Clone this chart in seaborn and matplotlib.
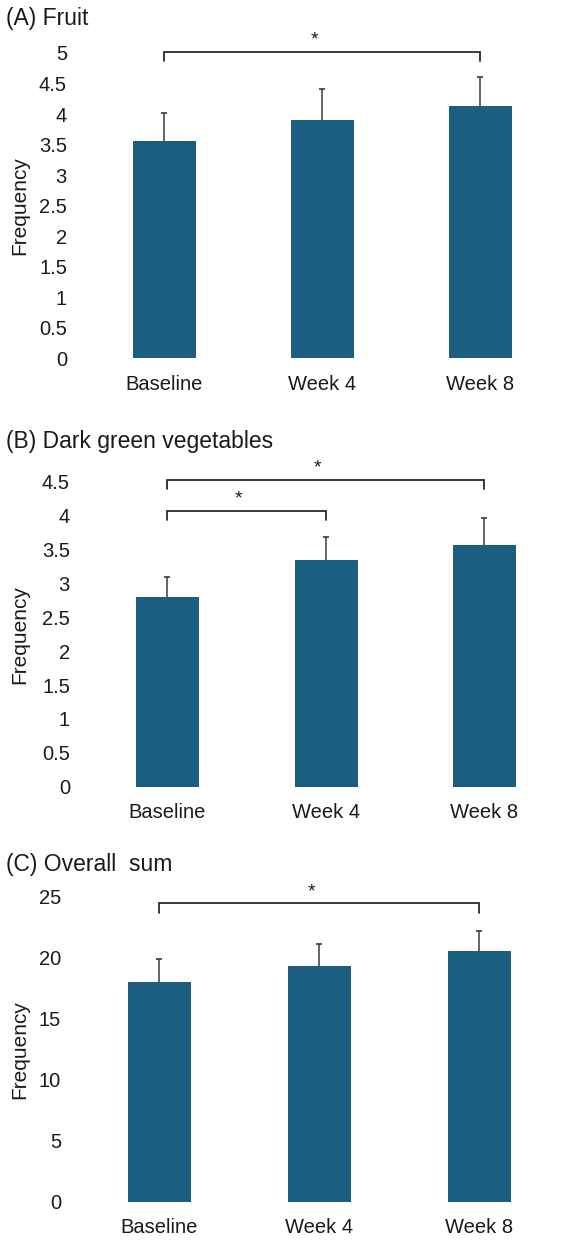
import matplotlib
matplotlib.use("Agg")
import matplotlib.pyplot as plt
import seaborn as sns
import pandas as pd

# ---- data ----
categories = ["Baseline", "Week 4", "Week 8"]

fruit_mean = [3.56, 3.90, 4.13]
fruit_err = [0.46, 0.51, 0.47]

veg_mean = [2.80, 3.34, 3.56]
veg_err = [0.29, 0.34, 0.41]

sum_mean = [18.03, 19.34, 20.55]
sum_err = [1.86, 1.76, 1.66]

titles = ["(A) Fruit", "(B) Dark green vegetables", "(C) Overall  sum"]
fruit_ticks = [0, 0.5, 1, 1.5, 2, 2.5, 3, 3.5, 4, 4.5, 5]
veg_ticks = [0, 0.5, 1, 1.5, 2, 2.5, 3, 3.5, 4, 4.5]
sum_ticks = [0, 5, 10, 15, 20, 25]

# significance brackets: (from, to, height, star)
fruit_sig = [(0, 2, 5.02, "*")]
veg_sig = [(0, 1, 4.07, "*"), (0, 2, 4.52, "*")]
sum_sig = [(0, 2, 24.45, "*")]

sns.set_theme(style="white")
plt.rcParams["font.family"] = ["Liberation Sans", "DejaVu Sans"]

W, H = 566, 1242
fig = plt.figure(figsize=(W / 100, H / 100), dpi=100)

BAR = "#1a5e82"
TXT = "#1a1a1a"

panels = [
    dict(mean=fruit_mean, err=fruit_err, ticks=fruit_ticks, sig=fruit_sig,
         top=53, bot=358.5, left=85, right=559, title_y=18, drop=0.15, star_off=0.20),
    dict(mean=veg_mean, err=veg_err, ticks=veg_ticks, sig=veg_sig,
         top=481.7, bot=786.7, left=88, right=563.5, title_y=441.7, drop=0.13, star_off=0.18),
    dict(mean=sum_mean, err=sum_err, ticks=sum_ticks, sig=sum_sig,
         top=896.7, bot=1201.7, left=79, right=559, title_y=864, drop=0.75, star_off=0.95),
]

for p, title in zip(panels, titles):
    ax = fig.add_axes([p["left"] / W, 1 - p["bot"] / H,
                       (p["right"] - p["left"]) / W, (p["bot"] - p["top"]) / H])
    df = pd.DataFrame({"cat": categories, "val": p["mean"]})
    sns.barplot(data=df, x="cat", y="val", color=BAR, saturation=1,
                width=0.39, errorbar=None, edgecolor="#134a68", linewidth=0.6, ax=ax)
    xs = list(range(len(categories)))
    tops = [m + e for m, e in zip(p["mean"], p["err"])]
    ax.vlines(xs, p["mean"], tops, color="#3a3a3a", lw=1.1, zorder=3)
    ax.scatter(xs, tops, marker="_", s=22, color="#3a3a3a", linewidths=1.2, zorder=3)
    ax.set_xlim(-0.5, 2.5)
    ax.set_ylim(p["ticks"][0], p["ticks"][-1])
    ax.set_yticks(p["ticks"])
    ax.set_yticklabels([f"{t:g}" for t in p["ticks"]], fontsize=14.5, color=TXT)
    ax.set_xticks(xs)
    ax.set_xticklabels(categories, fontsize=14.5, color=TXT)
    ax.tick_params(axis="both", length=0)
    ax.tick_params(axis="y", pad=13)
    ax.tick_params(axis="x", pad=12)
    ax.set_xlabel("")
    ax.set_ylabel("Frequency", fontsize=15, color=TXT)
    ax.yaxis.set_label_coords((29 - p["left"]) / (p["right"] - p["left"]), 0.5)
    for s in ax.spines.values():
        s.set_visible(False)
    for (a, b, h, star) in p["sig"]:
        ax.plot([a, a, b, b], [h - p["drop"], h, h, h - p["drop"]], color="#2a2a2a",
                lw=1.3, clip_on=False, solid_joinstyle="miter")
        ax.text((a + b) / 2 - 0.05, h + p["star_off"], star, ha="center", va="center",
                fontsize=14, color=TXT, clip_on=False)
    fig.text(6 / W, 1 - p["title_y"] / H, title, ha="left", va="center",
             fontsize=16.5, color=TXT)

fig.savefig("out.png", dpi=100)
